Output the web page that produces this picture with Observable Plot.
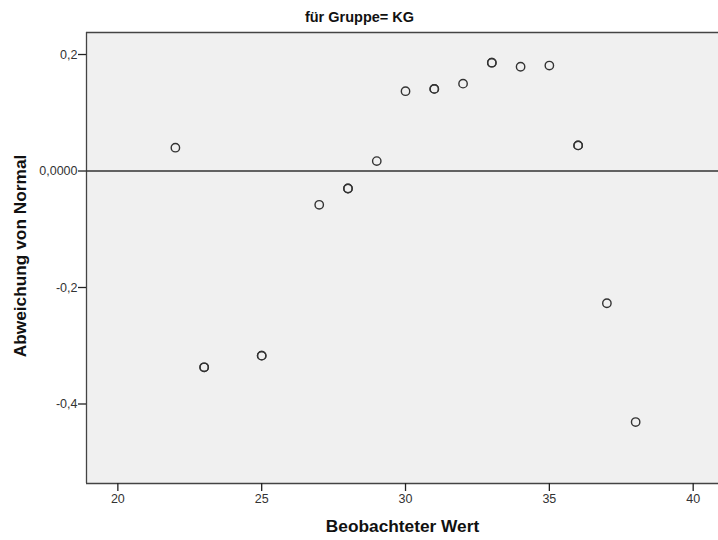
<!DOCTYPE html>
<html>
<head>
<meta charset="utf-8">
<script src="https://cdn.jsdelivr.net/npm/d3@7"></script>
<script src="https://cdn.jsdelivr.net/npm/@observablehq/plot@0.6"></script>
<style>
  html, body { margin: 0; padding: 0; background: #ffffff; }
  #chart svg { display: block; }
</style>
</head>
<body>
<div id="chart"></div>
<script>
// Observed values (repeated values = several cases at the same point)
const observed = [22, 23, 23, 25, 25, 27, 28, 28, 29, 30, 31, 31, 32, 33, 33, 34, 35, 36, 36, 37, 38];
const deviation = [0.040, -0.337, -0.337, -0.317, -0.317, -0.058, -0.030, -0.030, 0.017, 0.137, 0.141, 0.141, 0.150, 0.186, 0.186, 0.179, 0.181, 0.044, 0.044, -0.227, -0.431];
const xTicks = [20, 25, 30, 35, 40];
const yTicks = [0.2, 0, -0.2, -0.4];
const yTickLabels = ["0,2", "0,0000", "-0,2", "-0,4"];
const titleText = "für Gruppe= KG";
const xLabel = "Beobachteter Wert";
const yLabel = "Abweichung von Normal";

const points = observed.map((x, i) => ({x, y: deviation[i]}));
const xDomain = [18.91, 40.88];
const yDomain = [-0.5365, 0.2378];

const chart = Plot.plot({
  width: 718,
  height: 540,
  marginTop: 32,
  marginBottom: 57,
  marginLeft: 86,
  marginRight: 0,
  style: {fontFamily: "'Liberation Sans', Arial, sans-serif", fontSize: "12px", color: "#333", background: "#ffffff"},
  x: {domain: xDomain, label: null},
  y: {domain: yDomain, label: null},
  marks: [
    Plot.frame({fill: "#f0f0f0", stroke: null}),
    Plot.ruleX([xDomain[0]], {stroke: "#444", strokeWidth: 1.3}),
    Plot.ruleY([yDomain[1]], {stroke: "#444", strokeWidth: 1.3}),
    Plot.ruleY([yDomain[0]], {stroke: "#444", strokeWidth: 1.3}),
    Plot.ruleY([0], {stroke: "#333", strokeWidth: 1.6}),
    Plot.axisX({ticks: xTicks, tickSize: 8, tickPadding: 3, stroke: "#222", strokeWidth: 1.3, fill: "#333", fontSize: 12.5, label: null, tickFormat: d => String(d)}),
    Plot.axisY({ticks: yTicks, tickSize: 8, tickPadding: 1, stroke: "#222", strokeWidth: 1.3, fill: "#333", fontSize: 12.5, label: null,
      tickFormat: d => yTickLabels[yTicks.indexOf(d)]}),
    Plot.dot(points, {x: "x", y: "y", r: 4.2, stroke: "#333", strokeWidth: 1.4, fill: "none"}),
    Plot.text([titleText], {frameAnchor: "top", textAnchor: "middle", lineAnchor: "middle", dy: -15, dx: -43, fontSize: 14.5, fontWeight: "bold", fill: "#111",
      fontFamily: "'Liberation Sans Narrow', 'Liberation Sans', Arial, sans-serif"}),
    Plot.text([xLabel], {frameAnchor: "bottom", textAnchor: "middle", lineAnchor: "middle", dy: 43, fontSize: 17.3, fontWeight: "bold", fill: "#111"}),
    Plot.text([yLabel], {frameAnchor: "left", textAnchor: "middle", dx: -66, dy: -2, rotate: -90, fontSize: 17.3, fontWeight: "bold", fill: "#111"})
  ]
});
document.getElementById("chart").appendChild(chart);
</script>
</body>
</html>
